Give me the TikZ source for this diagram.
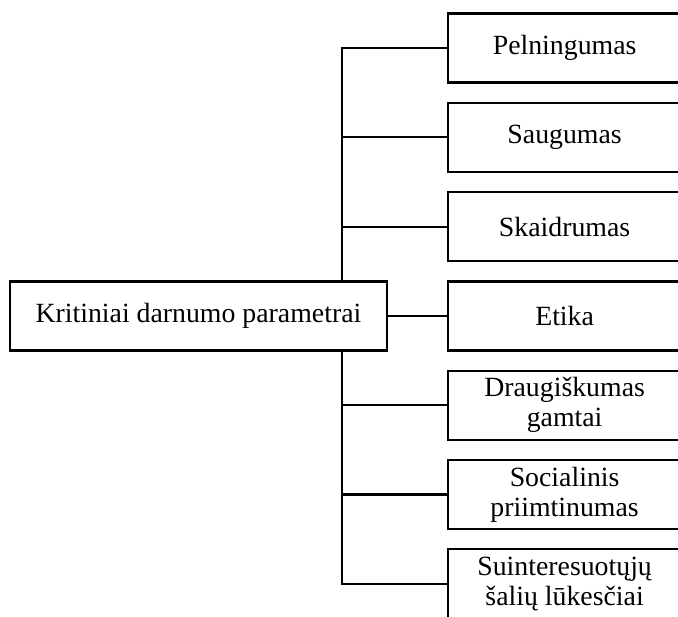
\documentclass[tikz,border=0pt]{standalone}
\usepackage{fontspec}
\setmainfont{Liberation Serif}
\usetikzlibrary{positioning, calc}

\begin{document}
\begin{tikzpicture}[
        node distance=9.05pt,
        item/.style={rectangle, draw, line width=1.1pt, fill=white, minimum width=116.5pt, minimum height=34.5pt, align=center, inner sep=1pt, font=\fontsize{13.9}{13.6}\selectfont},
        root/.style={item, minimum width=188.5pt},
        link/.style={line width=1.1pt}
    ]
    \useasboundingbox (0,0) rectangle (339pt,-308pt);
    % criteria on the right
    \node (pel) [item, anchor=north west] at (223.5pt,-6.2pt) {Pelningumas};
    \node (sau) [item, below=of pel] {Saugumas};
    \node (ska) [item, below=of sau] {Skaidrumas};
    \node (eti) [item, below=of ska] {Etika};
    \node (dra) [item, below=of eti] {Draugiškumas\\[1.5pt]gamtai};
    \node (soc) [item, below=of dra] {Socialinis\\[1.5pt]priimtinumas};
    \node (sui) [item, below=of soc] {Suinteresuotųjų\\[1.5pt]šalių lūkesčiai};

    % main node
    \node (crit) [root, left=29.5pt of eti] {Kritiniai darnumo parametrai};
    \coordinate (trunk) at ($(crit.east)+(-23pt,0)$);

    % connectors
    \draw[link] (crit) -- (eti);
    \draw[link] (pel.west) -- (pel.west -| trunk) -- (crit.north -| trunk);
    \draw[link] (sui.west) -- (sui.west -| trunk) -- (crit.south -| trunk);
    \draw[link] (sau.west) -- (sau.west -| trunk);
    \draw[link] (ska.west) -- (ska.west -| trunk);
    \draw[link] (dra.west) -- (dra.west -| trunk);
    \draw[link] (soc.west) -- (soc.west -| trunk);
\end{tikzpicture}
\end{document}
